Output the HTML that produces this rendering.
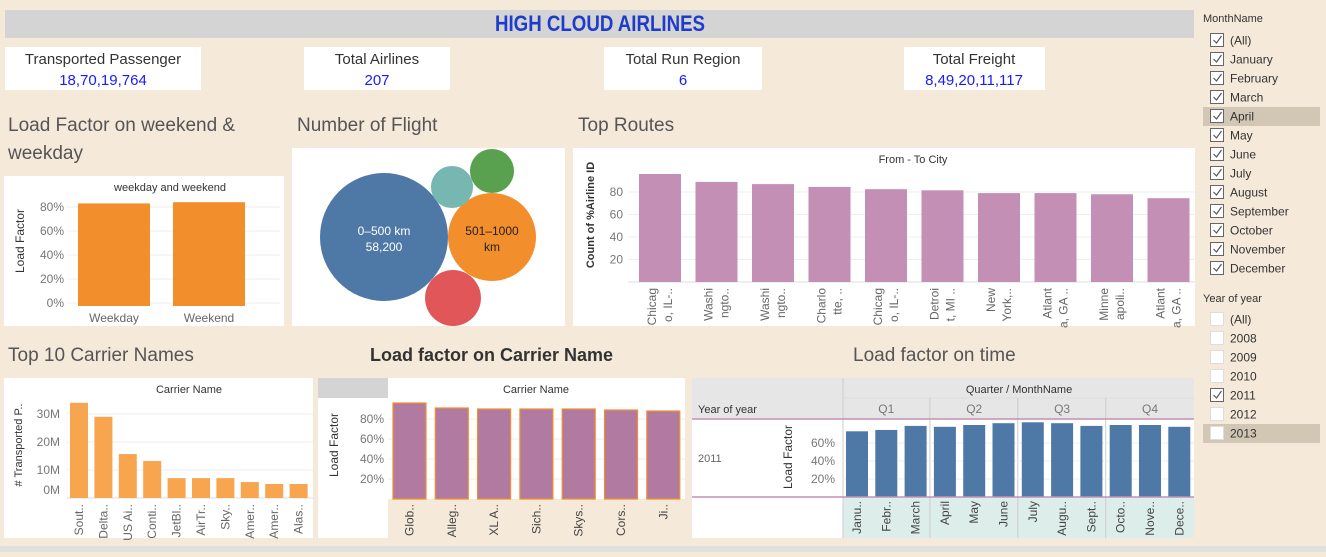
<!DOCTYPE html>
<html><head><meta charset="utf-8"><style>
body{margin:0;background:#f5eada;width:1326px;height:552px;overflow:hidden;font-family:"Liberation Sans",sans-serif}
svg text{font-family:"Liberation Sans",sans-serif}
</style></head><body>
<svg id="s" width="1326" height="552" xmlns="http://www.w3.org/2000/svg">
<rect x="0" y="0" width="1326" height="552" fill="#f5eada"/>
<rect x="0" y="546" width="1326" height="6" fill="#e2e0dc"/>
<g>
<rect x="5" y="10" width="1189" height="28" fill="#d4d4d4"/>
<text x="600" y="31" text-anchor="middle" font-size="22" font-weight="bold" fill="#1e3ccc" textLength="210" lengthAdjust="spacingAndGlyphs" style="font-family:'Liberation Sans Narrow','Liberation Sans',sans-serif">HIGH CLOUD AIRLINES</text>
</g>
<g><rect x="5" y="47" width="196" height="43" fill="#fff"/><text x="103" y="64" text-anchor="middle" font-size="15" fill="#333">Transported Passenger</text><text x="103" y="85" text-anchor="middle" font-size="15" fill="#1a1aff">18,70,19,764</text></g>
<g><rect x="304" y="47" width="146" height="43" fill="#fff"/><text x="377" y="64" text-anchor="middle" font-size="15" fill="#333">Total Airlines</text><text x="377" y="85" text-anchor="middle" font-size="15" fill="#1a1aff">207</text></g>
<g><rect x="604" y="47" width="158" height="43" fill="#fff"/><text x="683" y="64" text-anchor="middle" font-size="15" fill="#333">Total Run Region</text><text x="683" y="85" text-anchor="middle" font-size="15" fill="#1a1aff">6</text></g>
<g><rect x="904" y="47" width="141" height="43" fill="#fff"/><text x="974" y="64" text-anchor="middle" font-size="15" fill="#333">Total Freight</text><text x="974" y="85" text-anchor="middle" font-size="15" fill="#1a1aff">8,49,20,11,117</text></g>
<g font-size="19" fill="#555">
<text x="8" y="131">Load Factor on weekend &amp;</text>
<text x="8" y="159">weekday</text>
<text x="297" y="131">Number of Flight</text>
<text x="578" y="131">Top Routes</text>
<text x="8" y="361">Top 10 Carrier Names</text>
<text x="370" y="361" font-weight="bold" fill="#333" font-size="18">Load factor on Carrier Name</text>
<text x="853" y="361">Load factor on time</text>
</g>
<rect x="4" y="176" width="280" height="150" fill="#fff"/>
<rect x="292" y="148" width="273" height="178" fill="#fff"/>
<rect x="573" y="148" width="622" height="178" fill="#fff"/>
<rect x="4" y="378" width="309" height="160" fill="#fff"/>
<rect x="318" y="378" width="367" height="160" fill="#fff"/>
<rect x="318" y="378" width="70" height="20" fill="#d4d4d4"/>
<rect x="388" y="499" width="297" height="39" fill="#f5eada"/>
<rect x="692" y="378" width="502" height="160" fill="#fff"/>
<rect x="692" y="378" width="502" height="41" fill="#e6e6e6"/>
<rect x="843" y="497" width="351" height="41" fill="#ddeeea"/>
<g id="charts"></g>
<g id="filters"></g>
</svg>
<script>
// Weekday / weekend
const wkCats=["Weekday","Weekend"];
const wkVals=[83,84];
const wkTicks=[0,20,40,60,80];
// Flights bubbles
const flLabels=["0–500 km","501–1000 km","","",""];
const flVals=[58200,27500,11100,6900,6300];
// Top routes
const rtLabels=[["Chicag","o, IL-.."],["Washi","ngto.."],["Washi","ngto.."],["Charlo","tte, .."],["Chicag","o, IL-.."],["Detroi","t, MI .."],["New","York,.."],["Atlant","a, GA .."],["Minne","apoli.."],["Atlant","a, GA .."]];
const rtVals=[96,89,87,84.5,82.5,81.5,79,79,78,74.5];
const rtTicks=[20,40,60,80];
// Top carriers (millions)
const caLabels=["Sout..","Delta..","US Ai..","Conti..","JetBl..","AirTr..","Sky..","Amer..","Amer..","Alas.."];
const caVals=[34,29,15.7,13.2,7.1,7.1,7.1,5.7,5,5];
const caTicks=[0,10,20,30];
// Load factor per carrier
const lcLabels=["Glob..","Alleg..","XL A..","Sich..","Skys..","Cors..","Ji.."];
const lcVals=[96,91,90,90,90,89,88];
const lcTicks=[20,40,60,80];
// Load factor on time
const mLabels=["Janu..","Febr..","March","April","May","June","July","Augu..","Sept..","Octo..","Nove..","Dece.."];
const mVals=[73,74.5,79,78,80,82,83,82,79,80,80,78];
const mTicks=[20,40,60];
const quarters=["Q1","Q2","Q3","Q4"];

const NS="http://www.w3.org/2000/svg";
const G=document.getElementById('charts');
function el(t,a,p){const e=document.createElementNS(NS,t);for(const k in a)e.setAttribute(k,a[k]);(p||G).appendChild(e);return e;}
function txt(x,y,s,a,p){const e=el('text',Object.assign({x:x,y:y},a),p);e.textContent=s;return e;}

// Chart 1
(function(){
 const y=v=>303-v*1.2, x0=67, bw=72, xs=[78,173];
 const g=el('g',{});
 txt(170,191,"weekday and weekend",{'text-anchor':'middle','font-size':11,fill:'#333'},g);
 wkTicks.forEach(t=>{el('line',{x1:x0,x2:280,y1:y(t),y2:y(t),stroke:'#eee'},g);const l=txt(64,y(t)+4,t+"%",{'text-anchor':'end','font-size':12,fill:'#777'},g);});
 txt(0,0,"Load Factor",{transform:'translate(24,241) rotate(-90)','text-anchor':'middle','font-size':12,fill:'#333'},g);
 wkVals.forEach((v,i)=>{const r=el('rect',{x:xs[i],y:y(v),width:bw,height:y(0)-y(v)+3,fill:'#f28e2b'},g);
  txt(xs[i]+bw/2,322,wkCats[i],{'text-anchor':'middle','font-size':12,fill:'#666'},g);});
})();

// Chart 2 bubbles
(function(){
 const g=el('g',{});
 const pos=[[384,237],[492,237],[453,298],[492,171],[452,187]];
 const cols=['#4e79a7','#f28e2b','#e15759','#59a14f','#76b7b2'];
 const k=64/Math.sqrt(flVals[0]);
 flVals.forEach((v,i)=>{const c=el('circle',{cx:pos[i][0],cy:pos[i][1],r:k*Math.sqrt(v),fill:cols[i]},g);});
 txt(384,235,"0–500 km",{'text-anchor':'middle','font-size':12,fill:'#fff'},g);
 txt(384,251,"58,200",{'text-anchor':'middle','font-size':12,fill:'#fff'},g);
 txt(492,235,"501–1000",{'text-anchor':'middle','font-size':12,fill:'#222'},g);
 txt(492,251,"km",{'text-anchor':'middle','font-size':12,fill:'#222'},g);
})();

// Chart 3 top routes
(function(){
 const g=el('g',{});
 const y=v=>282-v*1.125, x=i=>639+i*56.5, bw=42;
 txt(913,163,"From - To City",{'text-anchor':'middle','font-size':11,fill:'#333'},g);
 el('line',{x1:628,x2:1195,y1:282,y2:282,stroke:'#ddd'},g);
 rtTicks.forEach(t=>{el('line',{x1:628,x2:1195,y1:y(t),y2:y(t),stroke:'#eee'},g);txt(623,y(t)+4,t,{'text-anchor':'end','font-size':12,fill:'#777'},g);});
 txt(0,0,"Count of %Airline ID",{transform:'translate(594,215) rotate(-90)','text-anchor':'middle','font-size':11,'font-weight':'bold',fill:'#333'},g);
 rtVals.forEach((v,i)=>{const r=el('rect',{x:x(i),y:y(v),width:bw,height:y(0)-y(v),fill:'#c48fb4'},g);
  rtLabels[i].forEach((s,j)=>txt(0,0,s,{transform:`translate(${x(i)+bw/2-4+j*16},288) rotate(-90)`,'text-anchor':'end','font-size':12,fill:'#666'},g));});
})();

// Chart 4 top carriers
(function(){
 const g=el('g',{});
 const y=v=>498-v*2.8, x=i=>70+i*24.4, bw=18;
 txt(189,393,"Carrier Name",{'text-anchor':'middle','font-size':11,fill:'#333'},g);
 el('line',{x1:67,x2:313,y1:498,y2:498,stroke:'#ddd'},g);
 caTicks.forEach(t=>{if(t>0)el('line',{x1:67,x2:313,y1:y(t),y2:y(t),stroke:'#eee'},g);txt(60,(t===0?490:y(t))+4,t+"M",{'text-anchor':'end','font-size':12,fill:'#777'},g);});
 txt(0,0,"# Transported P..",{transform:'translate(22,445) rotate(-90)','text-anchor':'middle','font-size':11,fill:'#333'},g);
 caVals.forEach((v,i)=>{const r=el('rect',{x:x(i),y:y(v),width:bw,height:y(0)-y(v),fill:'#f8a54f'},g);
  txt(0,0,caLabels[i],{transform:`translate(${x(i)+bw/2+4},504) rotate(-90)`,'text-anchor':'end','font-size':12,fill:'#666'},g);});
})();

// Chart 5 load factor carrier
(function(){
 const g=el('g',{});
 const y=v=>499-v, x=i=>393+i*42.3, bw=33;
 txt(536,393,"Carrier Name",{'text-anchor':'middle','font-size':11,fill:'#333'},g);
 lcTicks.forEach(t=>{el('line',{x1:388,x2:685,y1:y(t),y2:y(t),stroke:'#eee'},g);txt(384,y(t)+4,t+"%",{'text-anchor':'end','font-size':12,fill:'#777'},g);});
 txt(0,0,"Load Factor",{transform:'translate(338,445) rotate(-90)','text-anchor':'middle','font-size':12,fill:'#333'},g);
 lcVals.forEach((v,i)=>{const r=el('rect',{x:x(i),y:y(v),width:bw,height:y(0)-y(v),fill:'#b07aa1',stroke:'#f28e2b','stroke-width':1.2},g);
  txt(0,0,lcLabels[i],{transform:`translate(${x(i)+bw/2+4},504) rotate(-90)`,'text-anchor':'end','font-size':12,fill:'#444'},g);});
})();

// Chart 6 load factor on time
(function(){
 const g=el('g',{});
 const y=v=>497-v*0.9, x=i=>846+i*29.3, bw=22;
 txt(1019,393,"Quarter / MonthName",{'text-anchor':'middle','font-size':11,fill:'#333'},g);
 txt(698,413,"Year of year",{'font-size':11,fill:'#333'},g);
 txt(698,462,"2011",{'font-size':11,fill:'#666'},g);
 quarters.forEach((q,i)=>{const cx=x(i*3)+29.3+bw/2;txt(cx,413,q,{'text-anchor':'middle','font-size':12,fill:'#777'},g);});
 el('line',{x1:843,x2:843,y1:378,y2:538,stroke:'#ccc'},g);
 el('line',{x1:843,x2:1194,y1:398,y2:398,stroke:'#ddd'},g);
 [1,2,3].forEach(k=>{const dx=x(k*3)-4;el('line',{x1:dx,x2:dx,y1:398,y2:538,stroke:'#ccc'},g);});
 mTicks.forEach(t=>{el('line',{x1:843,x2:1194,y1:y(t),y2:y(t),stroke:'#eee'},g);txt(835,y(t)+4,t+"%",{'text-anchor':'end','font-size':12,fill:'#777'},g);});
 txt(0,0,"Load Factor",{transform:'translate(792,457) rotate(-90)','text-anchor':'middle','font-size':12,fill:'#333'},g);
 mVals.forEach((v,i)=>{const r=el('rect',{x:x(i),y:y(v),width:bw,height:y(0)-y(v),fill:'#4e79a7'},g);
  txt(0,0,mLabels[i],{transform:`translate(${x(i)+bw/2+4},501) rotate(-90)`,'text-anchor':'end','font-size':12,fill:'#444'},g);});
 el('line',{x1:692,x2:1194,y1:419,y2:419,stroke:'#c48fb4','stroke-width':1.5},g);
 el('line',{x1:692,x2:1194,y1:497,y2:497,stroke:'#c48fb4','stroke-width':1.5},g);
})();

// Filters
const months=["(All)","January","February","March","April","May","June","July","August","September","October","November","December"];
const years=["(All)","2008","2009","2010","2011","2012","2013"];
const yearChecked=[false,false,false,false,true,false,false];
(function(){
 const F=document.getElementById('filters');
 txt(1203,22,"MonthName",{'font-size':11,fill:'#333'},F);
 function item(yy,label,checked,hl,name){
  const g=el('g',{},F);
  if(hl)el('rect',{x:1203,y:yy-9,width:117,height:19,fill:'#d2c6b4'},g);
  el('rect',{x:1210.5,y:yy-6.5,width:13,height:13,fill:'#fff',stroke:checked?'#666':'#ddd'},g);
  if(checked)el('path',{d:`M${1213.5} ${yy} l3 3 l5 -7`,stroke:'#555',fill:'none','stroke-width':1.2},g);
  txt(1230,yy+4.5,label,{'font-size':12,fill:'#333'},g);
 }
 months.forEach((m,i)=>item(40+i*19,m,true,m==="April",'month-filter-'+m.replace(/[()]/g,'').toLowerCase()));
 txt(1203,302,"Year of year",{'font-size':11,fill:'#333'},F);
 years.forEach((yv,i)=>item(319+i*19,yv,yearChecked[i],yv==="2013",'year-filter-'+yv.replace(/[()]/g,'').toLowerCase()));
})();
</script>
</body></html>
